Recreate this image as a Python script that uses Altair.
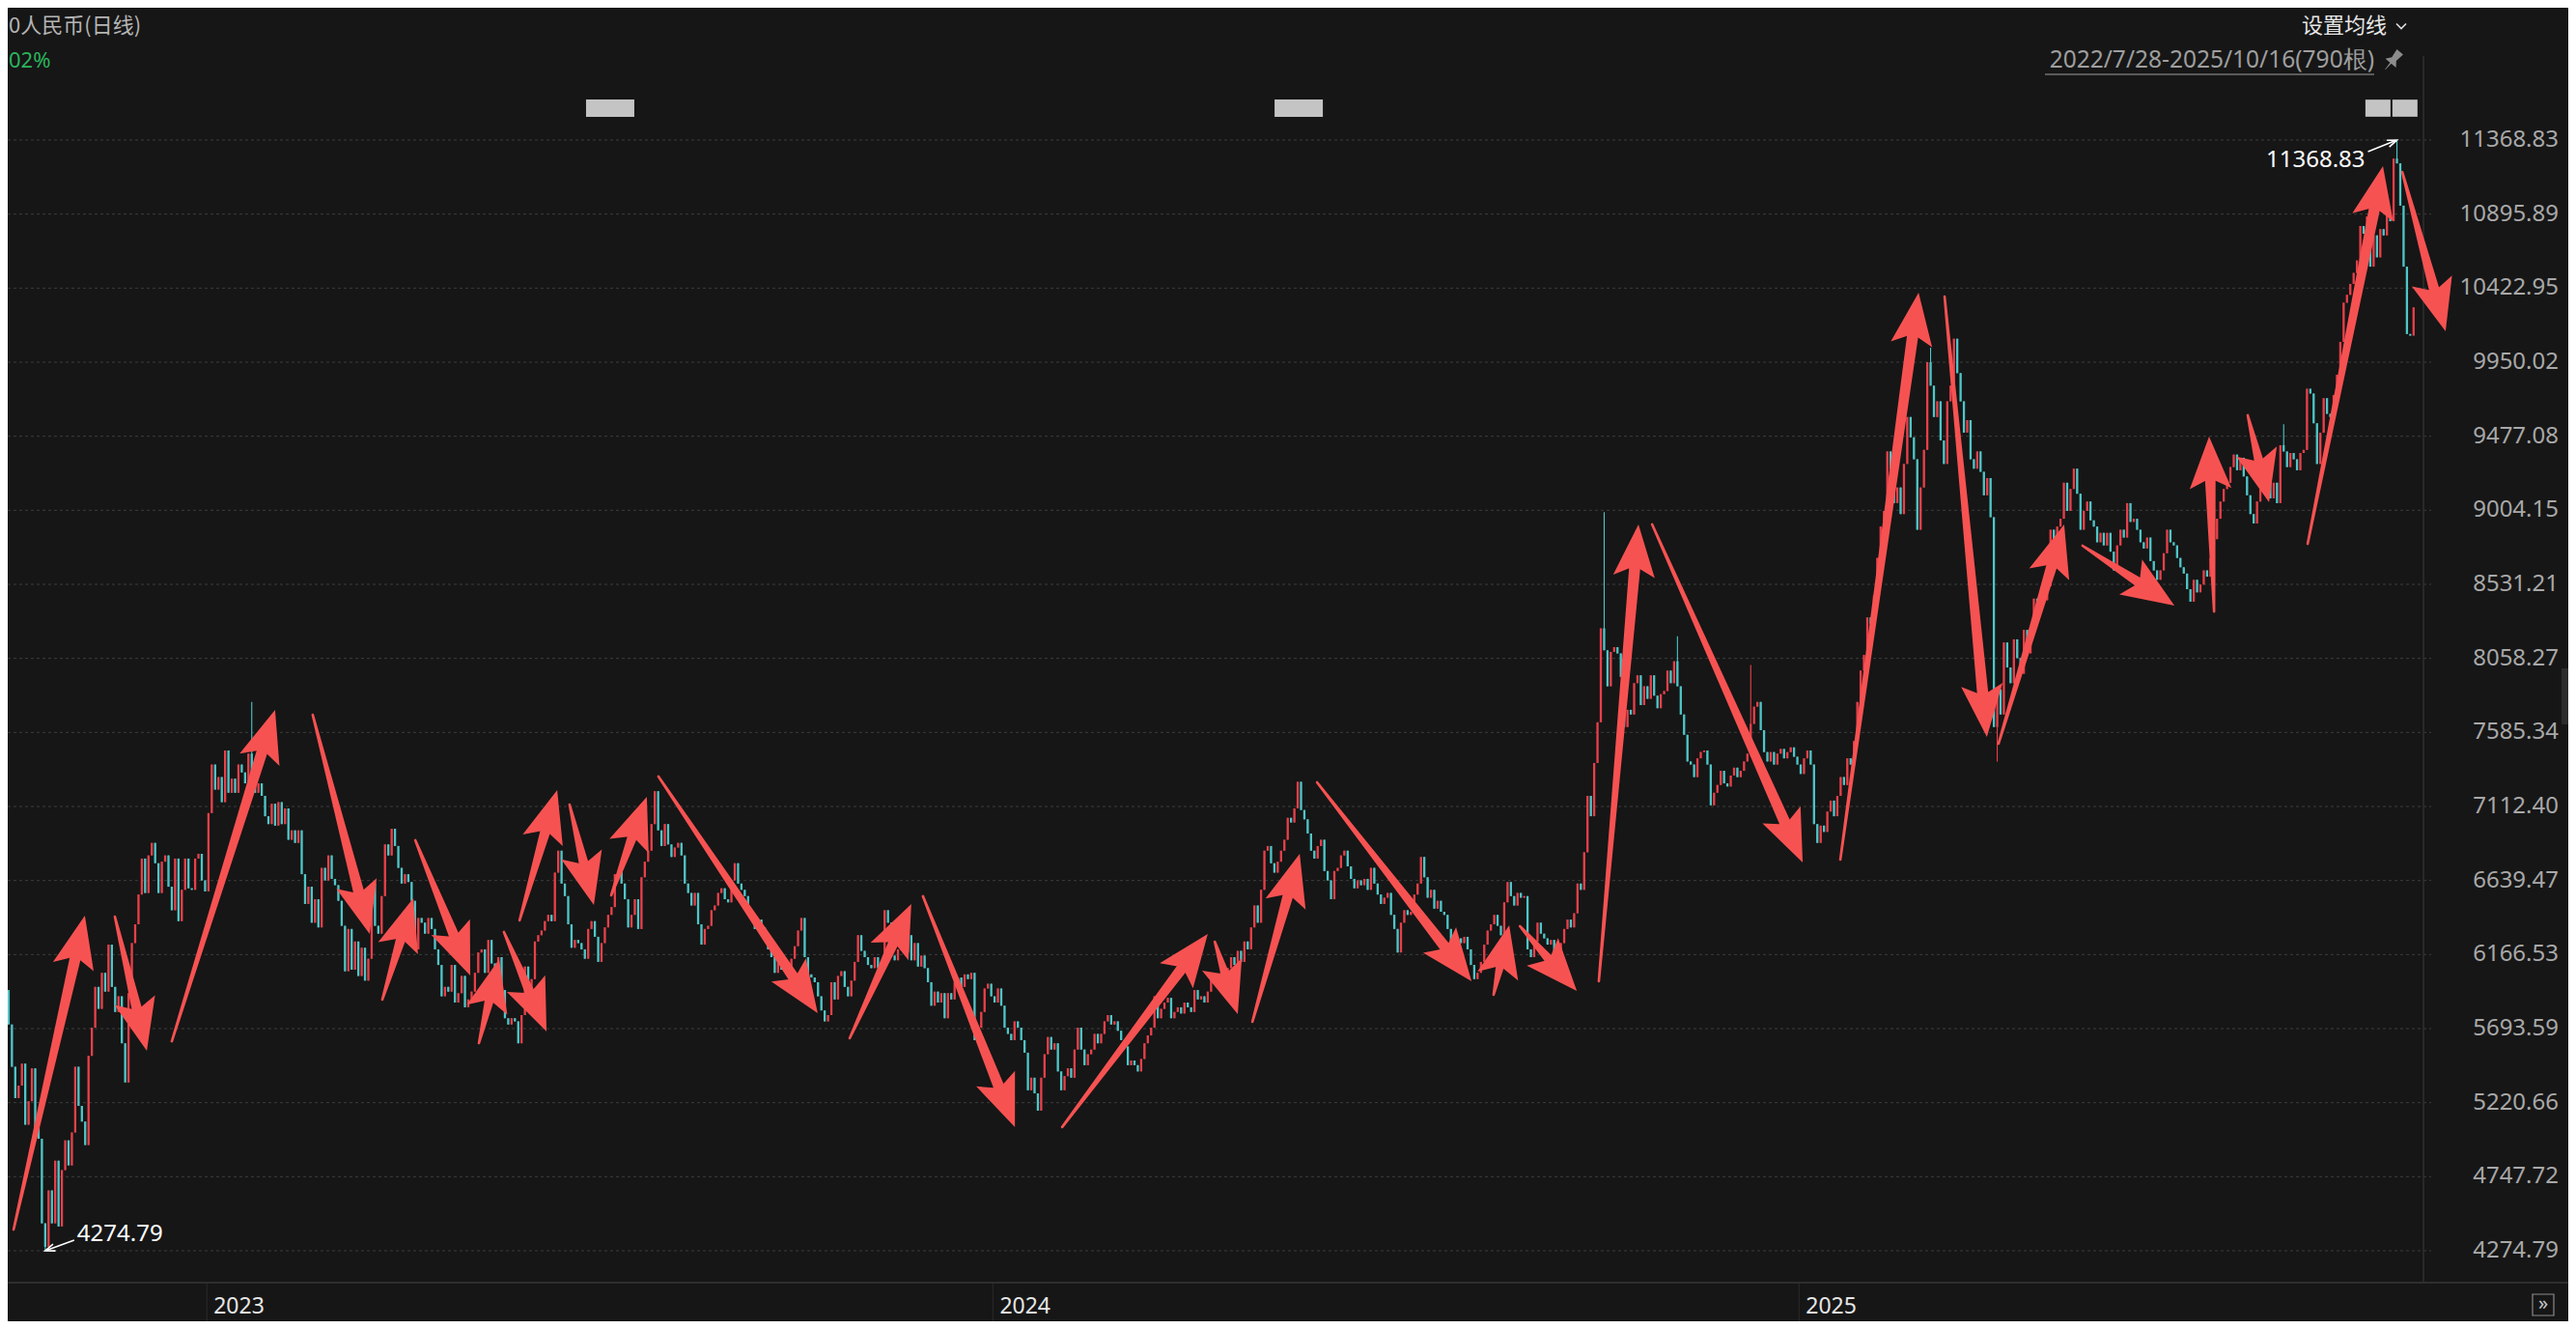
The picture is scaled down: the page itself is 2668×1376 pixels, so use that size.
import math
import altair as alt
import pandas as pd

# ---------------- values ----------------
first_open = 6160
close_2022 = [6080, 5940, 5720, 5450, 5250, 5330, 5470, 5080, 5230, 5440,
              5060, 4990, 4450, 4300, 4660, 4450, 4850, 4430, 4790, 4980,
              4820, 5030, 5450, 5200, 5100, 4950, 5520, 5700, 5960, 5820,
              6050, 5930, 6230, 5960, 5800, 5900, 5600, 5350, 5920, 6240,
              6360, 6550, 6780, 6560, 6800, 6880, 6750, 6560, 6760, 6800,
              6600, 6450, 6780, 6380, 6580, 6780, 6590, 6580, 6780, 6810,
              6640, 6570]
close_2023 = [7070, 7380, 7220, 7300, 7140, 7470, 7200, 7290,
              7200, 7380, 7330, 7260, 7450, 7320, 7200, 7260, 7180, 7050,
              7000, 7130, 6990, 7140, 7000, 7100, 6900, 6960, 6880, 6960,
              6680, 6490, 6600, 6370, 6520, 6340, 6720, 6640, 6800, 6650,
              6610, 6510, 6350, 6060, 6330, 6070, 6250, 6030, 6210, 6000,
              6140, 6620, 6350, 6300, 6540, 6870, 6800, 6970, 6860, 6720,
              6620, 6680, 6630, 6510, 6200, 6400, 6370, 6300, 6400, 6330,
              6200, 6100, 5900, 5960, 5930, 6100, 5860, 5920, 6030, 5830,
              5880, 5930, 6050, 6180, 6200, 6050, 6260, 6110, 6000, 6150,
              5940, 5760, 5720, 5760, 5740, 5600, 5780, 6090, 5900, 6010,
              6250, 6290, 6320, 6380, 6420, 6380, 6690, 6830, 6620, 6540,
              6360, 6210, 6260, 6240, 6200, 6140, 6330, 6380, 6280, 6120,
              6240, 6340, 6420, 6470, 6680, 6700, 6620, 6520, 6340, 6420,
              6520, 6330, 6660, 6760, 6830, 7000, 7210, 6960, 6860, 7000,
              6870, 6790, 6850, 6880, 6800, 6620, 6560, 6480, 6560, 6360,
              6230, 6330, 6350, 6450, 6480, 6560, 6590, 6520, 6500, 6640,
              6750, 6620, 6580, 6540, 6440, 6400, 6330, 6390, 6340, 6290,
              6200, 6150, 6050, 6140, 6070, 6120, 6080, 6140, 6220, 6320,
              6400, 6150, 6040, 6020, 5990, 5900, 5810, 5740, 5780, 5990,
              5880, 6030, 6060, 5960, 5900, 6000, 6120, 6290, 6190, 6150,
              6100, 6080, 6150, 6080, 6120, 6450, 6370, 6160, 6130, 6200,
              6250, 6180, 6290, 6130, 6240, 6090, 6160, 6080, 5990, 5840,
              5930, 5860, 5920, 5760, 5920, 5880, 5990, 6020, 5960, 6040,
              6010, 6050, 5620, 5700, 5800, 5950, 5980, 5900]
close_2024 = [5860, 5950,
              5840, 5700, 5660, 5620, 5740, 5700, 5620, 5540, 5300, 5380,
              5280, 5170, 5380, 5530, 5640, 5560, 5600, 5420, 5300, 5390,
              5440, 5380, 5560, 5700, 5560, 5460, 5530, 5560, 5660, 5600,
              5660, 5740, 5780, 5720, 5740, 5680, 5620, 5580, 5460, 5490,
              5460, 5420, 5500, 5600, 5650, 5700, 5900, 5760, 5820, 5860,
              5890, 5760, 5800, 5830, 5790, 5860, 5830, 5800, 5940, 5880,
              5900, 5860, 5930, 6010, 6030, 5980, 6050, 6000, 6080, 6150,
              6100, 6190, 6120, 6250, 6200, 6340, 6480, 6370, 6580, 6830,
              6860, 6750, 6690, 6760, 6830, 6900, 7040, 7010, 7100, 7270,
              7090, 7030, 6940, 6830, 6780, 6860, 6900, 6700, 6640, 6520,
              6700, 6720, 6800, 6830, 6730, 6650, 6590, 6640, 6610, 6650,
              6580, 6720, 6620, 6550, 6490, 6530, 6560, 6420, 6330, 6180,
              6370, 6450, 6420, 6440, 6550, 6620, 6790, 6660, 6530, 6580,
              6460, 6510, 6440, 6420, 6330, 6250, 6210, 6270, 6240, 6280,
              6200, 6100, 6010, 6050, 6120, 6230, 6320, 6360, 6420, 6350,
              6290, 6500, 6630, 6540, 6480, 6560, 6530, 6540, 6200, 6150,
              6250, 6370, 6300, 6270, 6230, 6260, 6180, 6200, 6240, 6330,
              6390, 6340, 6430, 6620, 6580, 6820, 7180, 7050, 7390, 7650,
              8250, 8110, 7880, 8100, 8130, 8090, 7940, 7620, 7730, 7700,
              7900, 7950, 7760, 7880, 7800, 7950, 7820, 7740, 7830, 7850,
              7980, 7900, 8040, 7880, 7700, 7570, 7400, 7380, 7300, 7420,
              7460, 7470, 7380, 7120, 7200, 7250, 7340, 7260, 7240, 7310,
              7360, 7300, 7340, 7400, 7450, 7640, 7750, 7780, 7600, 7460,
              7400, 7460, 7380, 7450, 7480, 7420, 7460, 7490, 7430, 7380]
close_2025 = [7320, 7420, 7470, 7380, 7000, 6880, 6990, 6950, 7080, 7150,
              7050, 7180, 7300, 7250, 7420, 7380, 7530, 7780, 7980, 8080,
              8320, 8280, 8460, 8700, 8900, 9000, 9380, 9250, 9050, 9150,
              8980, 9300, 9600, 9470, 9330, 8880, 9150, 9390, 9950, 9800,
              9600, 9700, 9450, 9300, 9700, 9800, 10100, 9880, 9700, 9500,
              9580, 9330, 9270, 9380, 9250, 9100, 9210, 8960, 7620, 7860,
              7700, 8160, 8000, 7900, 8180, 8060, 7960, 8240, 8090, 8220,
              8440, 8350, 8480, 8430, 8520, 8880, 8820, 8900, 8950, 9180,
              9000, 9140, 9270, 9110, 8880, 9000, 9060, 8940, 8900, 8800,
              8860, 8780, 8860, 8740, 8620, 8780, 8880, 8830, 9050, 8930,
              8950, 8880, 8800, 8760, 8830, 8680, 8620, 8560, 8620, 8730,
              8880, 8800, 8780, 8700, 8640, 8600, 8500, 8420, 8560, 8480,
              8530, 8620, 8580, 8700, 8820, 8950, 9060, 9140, 9180, 9280,
              9360, 9260, 9340, 9220, 9100, 8980, 8920, 9060, 9140, 9200,
              9240, 9080, 9180, 9050, 9420, 9380, 9280, 9370, 9330, 9260,
              9370, 9390, 9780, 9750, 9560, 9300, 9500, 9720, 9620, 9600,
              9740, 9870, 10080, 10330, 10380, 10450, 10520, 10600, 10820, 10770,
              10880, 10560, 10760, 10620, 10800, 10760, 10900, 10850, 11250, 11220,
              10950, 10560, 10130, 10120, 10300]

spike_index = [13, 75, 481, 503, 525, 579, 599, 685, 719]
spike_price = [4274.79, 7780, 8993, 8200, 8016, 10042, 7400, 9554, 11368.83]

tick_values = [11368.83, 10895.89, 10422.95, 9950.02, 9477.08, 9004.15, 8531.21, 8058.27,
               7585.34, 7112.40, 6639.47, 6166.53, 5693.59, 5220.66, 4747.72, 4274.79]
tick_labels = ["11368.83", "10895.89", "10422.95", "9950.02", "9477.08", "9004.15",
               "8531.21", "8058.27", "7585.34", "7112.40", "6639.47", "6166.53",
               "5693.59", "5220.66", "4747.72", "4274.79"]

year_labels = ["2023", "2024", "2025"]
year_start_index = [62, 298, 540]

arrow_from_index = [3.5, 33.9, 51.0, 93.3, 114.2, 124.1, 143.2, 150.7, 155.4, 170.4,
                    182.9, 197.1, 254.5, 276.5, 318.3, 364.1, 375.4, 394.8, 447.8, 455.7,
                    479.4, 495.4, 551.9, 583.2, 599.4, 624.6, 664.1, 674.2, 692.2, 720.6]
arrow_from_price = [4410, 6409, 5613, 7698, 5879, 6897, 5601, 6311, 6385, 7125,
                    6545, 7304, 5632, 6539, 5065, 6249, 5737, 7267, 5910, 6348,
                    5996, 8914, 6773, 10369, 7514, 8778, 8358, 9611, 8790, 11165]
arrow_to_index = [24.9, 43.5, 82.0, 110.4, 123.5, 140.6, 149.3, 163.5, 166.7, 177.7,
                  193.6, 244.9, 273.0, 304.1, 362.0, 371.0, 389.6, 441.2, 452.5, 472.8,
                  491.3, 540.6, 575.4, 595.9, 619.1, 652.2, 662.6, 680.6, 714.8, 733.6]
arrow_to_price = [6415, 5552, 7729, 6298, 6526, 6033, 6138, 5675, 7217, 6483,
                  7174, 5792, 6489, 5065, 6298, 5786, 6810, 5996, 6354, 5934,
                  8914, 6755, 10394, 7557, 8914, 8396, 9475, 9056, 11202, 10147]

low_index, low_price, low_text = 13, 4274.79, "4274.79"
high_index, high_price, high_text = 719, 11368.83, "11368.83"

badge_wide_index = [182.6, 389.3]
badge_narrow_index = [713.3, 721.4]

title_text = "0人民币(日线)"
change_text = "02%"
ma_text = "设置均线"
range_text = "2022/7/28-2025/10/16(790根)"

# ---------------- layout / style ----------------
W, H = 2652, 1360
BAR_PX = 3.45
X_OFF = -6.0
x_dom = [-X_OFF / BAR_PX, (W - X_OFF) / BAR_PX]
y_dom = [3824.47, 12213.95]
PX_PER_PRICE = H / (y_dom[1] - y_dom[0])
xs = alt.Scale(domain=x_dom, nice=False, zero=False)
ys = alt.Scale(domain=y_dom, nice=False, zero=False)

BG = "#161616"
RED = "#e8404a"
TEAL = "#4fc6c8"
ARROW = "#f75252"
FONT = "Noto Sans"
CJK = "Noto Sans CJK SC"


def X(f):
    return alt.X(f, type="quantitative", scale=xs, axis=None)


def Y(f):
    return alt.Y(f, type="quantitative", scale=ys, axis=None)


# candles
closes = close_2022 + close_2023 + close_2024 + close_2025
spikes = dict(zip(spike_index, spike_price))
rows = []
prev = first_open
for i, c in enumerate(closes):
    lo, hi = min(prev, c), max(prev, c)
    s = spikes.get(i, c)
    rows.append({"i": i, "lo": lo, "hi": hi, "wlo": min(lo, s), "whi": max(hi, s),
                 "col": RED if c >= prev else TEAL})
    prev = c
candles = pd.DataFrame(rows)

# arrows
HEAD = 54
HEAD_PATH = "M0,-1L0.8,1L0,0.6L-0.8,1Z"
shaft_rows, head_rows = [], []
for k, (fi, fp, ti, tp) in enumerate(zip(arrow_from_index, arrow_from_price,
                                         arrow_to_index, arrow_to_price)):
    dx = (ti - fi) * BAR_PX
    dy = -(tp - fp) * PX_PER_PRICE
    L = math.hypot(dx, dy)
    ux, uy = dx / L, dy / L
    ci = ti - (HEAD / 2) * ux / BAR_PX
    cp = tp + (HEAD / 2) * uy / PX_PER_PRICE
    ang = math.degrees(math.atan2(ux, -uy)) % 360
    shaft_rows.append({"id": k, "o": 0, "x": fi, "y": fp, "w": 2.6})
    shaft_rows.append({"id": k, "o": 1, "x": ci, "y": cp, "w": 12.0})
    head_rows.append({"x": ci, "y": cp, "a": ang})

# small white pointer arrows
CHEV = 10
CHEV_PATH = "M-0.75,1L0,-1L0.75,1"
white_rows, chev_rows = [], []
for (ti, tp, ox, oy) in [(low_index, low_price, 30, -11), (high_index, high_price, -30, 12)]:
    fi = ti + ox / BAR_PX
    fp = tp - oy / PX_PER_PRICE
    L = math.hypot(ox, oy)
    ux, uy = -ox / L, -oy / L
    white_rows.append({"x": fi, "y": fp, "x2": ti - 1.5 * ux / BAR_PX, "y2": tp + 1.5 * uy / PX_PER_PRICE})
    chev_rows.append({"x": ti - (CHEV / 2) * ux / BAR_PX, "y": tp + (CHEV / 2) * uy / PX_PER_PRICE,
                      "a": math.degrees(math.atan2(ux, -uy)) % 360})


def label(text, x, y, size, color, align="left", font=FONT):
    return alt.Chart(pd.DataFrame({"t": [text]})).mark_text(
        align=align, baseline="middle", fontSize=size, color=color, font=font
    ).encode(x=alt.value(x), y=alt.value(y), text="t:N")


one = pd.DataFrame({"k": [0]})
ticks = pd.DataFrame({"v": tick_values, "lab": tick_labels})
years = pd.DataFrame({"x": [v - 0.5 for v in year_start_index], "lab": year_labels})

layers = []
# grid
layers.append(alt.Chart(ticks).mark_rule(color="#3d3d3d", strokeWidth=1, strokeDash=[3, 3]).encode(
    y=Y("v"), x=alt.value(0), x2=alt.value(2510)))
# axis frame lines
layers.append(alt.Chart(one).mark_rule(color="#2f2f2f", strokeWidth=1.5).encode(
    x=alt.value(2502), y=alt.value(50), y2=alt.value(1320)))
layers.append(alt.Chart(one).mark_rule(color="#2e2e2e", strokeWidth=2).encode(
    x=alt.value(0), x2=alt.value(W), y=alt.value(1320)))
layers.append(alt.Chart(years).mark_rule(color="#2a2a2a", strokeWidth=1).encode(
    x=X("x"), y=alt.value(1321), y2=alt.value(H)))
layers.append(alt.Chart(years).mark_text(align="left", baseline="middle", dx=7, fontSize=23,
                                         color="#e6e6e6", font=FONT).encode(
    x=X("x"), y=alt.value(1345), text="lab:N"))
# candles
layers.append(alt.Chart(candles).mark_rule(strokeWidth=1.1).encode(
    x=X("i"), y=Y("wlo"), y2="whi:Q", color=alt.Color("col:N", scale=None)))
layers.append(alt.Chart(candles).mark_rule(strokeWidth=2.3).encode(
    x=X("i"), y=Y("lo"), y2="hi:Q", color=alt.Color("col:N", scale=None)))
# red arrows
layers.append(alt.Chart(pd.DataFrame(shaft_rows)).mark_trail(color=ARROW, opacity=1).encode(
    x=X("x"), y=Y("y"), size=alt.Size("w:Q", scale=None, legend=None),
    detail="id:N", order="o:Q"))
layers.append(alt.Chart(pd.DataFrame(head_rows)).mark_point(
    shape=HEAD_PATH, size=HEAD * HEAD, filled=True, color=ARROW, opacity=1, strokeWidth=0).encode(
    x=X("x"), y=Y("y"), angle=alt.Angle("a:Q", scale=None)))
# white pointers + extreme labels
layers.append(alt.Chart(pd.DataFrame(white_rows)).mark_rule(color="white", strokeWidth=1.6).encode(
    x=X("x"), y=Y("y"), x2="x2:Q", y2="y2:Q"))
layers.append(alt.Chart(pd.DataFrame(chev_rows)).mark_point(
    shape=CHEV_PATH, size=CHEV * CHEV, filled=False, color="white", opacity=1, strokeWidth=1.6).encode(
    x=X("x"), y=Y("y"), angle=alt.Angle("a:Q", scale=None)))
layers.append(alt.Chart(pd.DataFrame({"x": [low_index], "y": [low_price], "t": [low_text]})).mark_text(
    align="left", baseline="middle", dx=33, dy=-17, fontSize=24, color="white", font=FONT).encode(
    x=X("x"), y=Y("y"), text="t:N"))
layers.append(alt.Chart(pd.DataFrame({"x": [high_index], "y": [high_price], "t": [high_text]})).mark_text(
    align="right", baseline="middle", dx=-33, dy=21, fontSize=24, color="white", font=FONT).encode(
    x=X("x"), y=Y("y"), text="t:N"))
# right axis labels
layers.append(alt.Chart(ticks).mark_text(align="right", baseline="middle", fontSize=24,
                                         color="#a8a8a8", font=FONT).encode(
    x=alt.value(2642), y=Y("v"), text="lab:N"))
# badges
BADGE = "M-1,-0.36L1,-0.36L1,0.36L-1,0.36Z"
layers.append(alt.Chart(pd.DataFrame({"x": badge_wide_index})).mark_point(
    shape=BADGE, size=50 * 50, filled=True, color="#c4c4c4", opacity=1, strokeWidth=0).encode(
    x=X("x"), y=alt.value(104)))
BADGE_N = "M-1,-0.68L1,-0.68L1,0.68L-1,0.68Z"
layers.append(alt.Chart(pd.DataFrame({"x": badge_narrow_index})).mark_point(
    shape=BADGE_N, size=26 * 26, filled=True, color="#c4c4c4", opacity=1, strokeWidth=0).encode(
    x=X("x"), y=alt.value(104)))
# header texts
layers.append(label(title_text, 1, 19, 22, "#b4b4b4", font=CJK))
layers.append(label(change_text, 1, 55, 22, "#2ab45c"))
layers.append(label(ma_text, 2464, 19, 22, "#e6e6e6", align="right", font=CJK))
layers.append(alt.Chart(one).mark_point(shape="M-1,-0.5L0,0.5L1,-0.5", size=100, filled=False,
                                        color="#dddddd", opacity=1, strokeWidth=1.6).encode(
    x=alt.value(2479), y=alt.value(19)))
layers.append(label(range_text, 2451, 55, 24.5, "#9e9e9e", align="right"))
layers.append(alt.Chart(one).mark_rule(color="#9e9e9e", strokeWidth=1.2).encode(
    x=alt.value(2110), x2=alt.value(2451), y=alt.value(69)))
PIN = "M-0.35,-1L0.35,-1L0.25,-0.2L0.6,0.25L-0.6,0.25L-0.25,-0.2Z M-0.07,0.25L0.07,0.25L0.02,1L-0.02,1Z"
layers.append(alt.Chart(one).mark_point(shape=PIN, size=24 * 24, filled=True, color="#8c8c8c",
                                        opacity=1, strokeWidth=0, angle=40).encode(
    x=alt.value(2470), y=alt.value(55)))
# bottom-right button and side handle
layers.append(alt.Chart(one).mark_point(shape="square", size=22 * 22, filled=False, color="#8a8a8a",
                                        opacity=1, strokeWidth=1.2).encode(
    x=alt.value(2626), y=alt.value(1343)))
layers.append(label("»", 2626, 1342, 20, "#c8c8c8", align="center"))
layers.append(alt.Chart(one).mark_rect(color="#2c2c2c").encode(
    x=alt.value(2645), x2=alt.value(W), y=alt.value(684), y2=alt.value(742)))

chart = alt.layer(*layers).properties(
    width=W, height=H, background=BG, padding=0,
    autosize=alt.AutoSizeParams(type="none"),
).configure_view(stroke=None)

chart.save("out.html", embed_options={"renderer": "svg", "actions": False})
